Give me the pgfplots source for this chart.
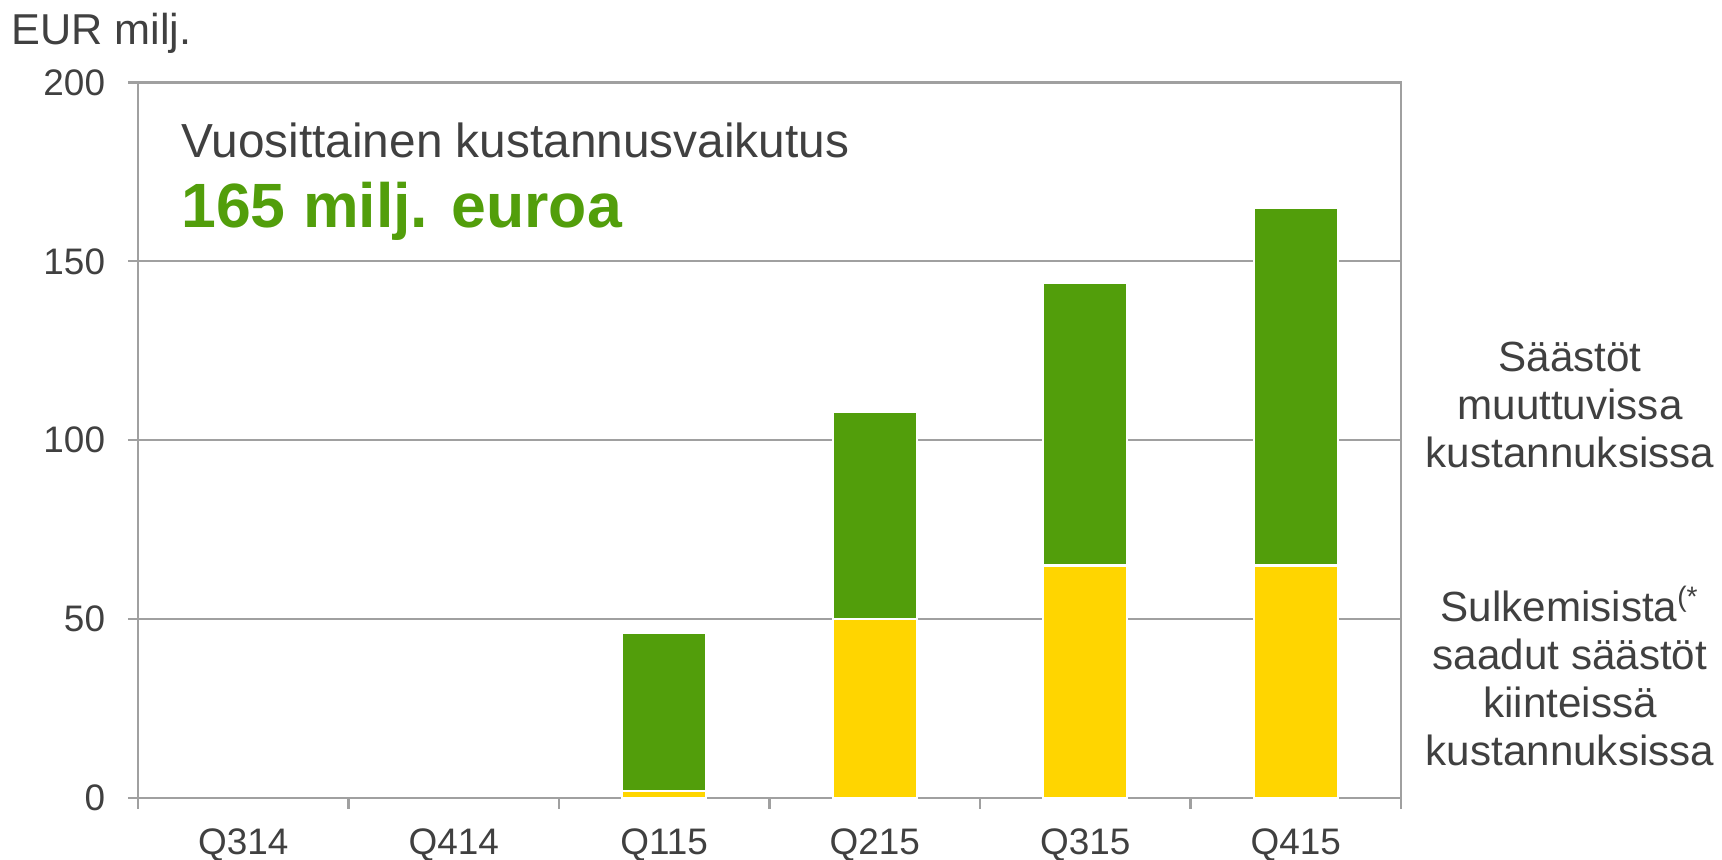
\documentclass[border=0pt]{standalone}
\usepackage{pgfplots}
\pgfplotsset{compat=1.18}
\usepackage{fontspec}
\setmainfont{Liberation Sans}
\definecolor{BarGreen}{RGB}{82,158,11}
\definecolor{BarYellow}{RGB}{255,213,0}
\definecolor{TextGray}{RGB}{64,64,64}
\definecolor{LineGray}{RGB}{160,160,160}

\begin{document}
\begin{tikzpicture}[every node/.style={text=TextGray}]
  \path[use as bounding box] (-1.38cm,-0.62cm) rectangle (15.84cm,7.98cm);
  \begin{axis}[
    ybar stacked, bar width=0.40,
    scale only axis, width=12.63cm, height=7.155cm,
    xmin=-0.5, xmax=5.5, ymin=0, ymax=200,
    xtick={0,...,5},
    xticklabels={Q314,Q414,Q115,Q215,Q315,Q415},
    minor xtick={-0.5,0.5,...,5.5},
    ytick={0,50,...,200},
    xtick pos=bottom, ytick pos=left,
    tick align=outside,
    major tick length=0.1cm, minor tick length=0.11cm,
    major x tick style={draw=none},
    tick style={LineGray, line width=0.6pt},
    axis line style={LineGray, line width=0.6pt},
    ymajorgrids, grid style={LineGray, line width=0.6pt},
    ticklabel style={font=\fontsize{10.5}{12}\selectfont, text=TextGray},
    /pgf/number format/assume math mode=true,
    yticklabel style={xshift=-3pt},
    xticklabel style={yshift=-2.5pt},
    clip=false,
  ]
  \addplot[fill=BarYellow, draw=white, line width=0.6pt]
    coordinates {(2,2) (3,50) (4,65) (5,65)};
  \addplot[fill=BarGreen, draw=white, line width=0.6pt]
    coordinates {(2,44) (3,58) (4,79) (5,100)};

  \node[anchor=base west, font=\fontsize{12.3}{14}\selectfont]
    at (axis description cs:0,1) [xshift=-1.39cm, yshift=0.385cm] {EUR milj.};
  \node[anchor=base west, font=\fontsize{13.6}{16}\selectfont]
    at (axis description cs:0,1) [xshift=0.31cm, yshift=-0.745cm] {Vuosittainen kustannusvaikutus};
  \node[anchor=base west, font=\bfseries\fontsize{17.8}{21}\selectfont, text=BarGreen]
    at (axis description cs:0,1) [xshift=0.31cm, yshift=-1.45cm] {165 milj. euroa};

  \node[align=center, font=\fontsize{12}{13.7}\selectfont]
    at (axis description cs:0,0) [xshift=14.32cm, yshift=3.93cm]
    {Säästöt\\muuttuvissa\\kustannuksissa};
  \node[align=center, font=\fontsize{12}{13.7}\selectfont]
    at (axis description cs:0,0) [xshift=14.32cm, yshift=1.22cm]
    {Sulkemisista\textsuperscript{(*}\\saadut säästöt\\kiinteissä\\kustannuksissa};
  \end{axis}
\end{tikzpicture}
\end{document}
